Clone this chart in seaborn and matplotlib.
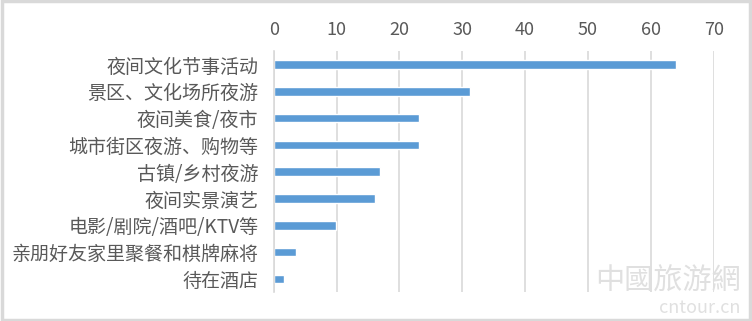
import matplotlib.pyplot as plt
import pandas as pd
import seaborn as sns
from matplotlib.patches import Rectangle

categories = ["夜间文化节事活动", "景区、文化场所夜游", "夜间美食/夜市", "城市街区夜游、购物等",
              "古镇/乡村夜游", "夜间实景演艺", "电影/剧院/酒吧/KTV等", "亲朋好友家里聚餐和棋牌麻将", "待在酒店"]
values = [64.0, 31.2, 23.1, 23.1, 16.9, 16.1, 9.9, 3.5, 1.6]
xticks = [0, 10, 20, 30, 40, 50, 60, 70]

df = pd.DataFrame({"activity": categories, "share": values})

sns.set_style("white")
plt.rcParams["font.family"] = ["Noto Sans CJK SC", "DejaVu Sans"]

fig = plt.figure(figsize=(7.52, 3.21), dpi=100)
ax = fig.add_axes([0.364, 0.089, 0.585, 0.752])
sns.barplot(data=df, x="share", y="activity", color="#5B9BD5", saturation=1, width=0.32, ax=ax)

ax.set_xlim(0, 70)
ax.set_xticks(xticks)
ax.xaxis.tick_top()
ax.set_xlabel("")
ax.set_ylabel("")
ax.grid(axis="x", color="#D9D9D9", linewidth=1.2)
ax.set_axisbelow(True)
for s in ["top", "right", "bottom"]:
    ax.spines[s].set_visible(False)
ax.spines["left"].set_color("#D9D9D9")
ax.spines["left"].set_linewidth(1.2)
ax.tick_params(axis="x", length=0, pad=8.5, labelsize=13, labelcolor="#595959")
ax.tick_params(axis="y", length=0, pad=11, labelsize=13.7, labelcolor="#595959")

# watermark
fig.text(0.985, 0.075, "中國旅游網", ha="right", va="bottom", fontsize=21, color="#E0E0E0")
fig.text(0.985, 0.012, "cntour.cn", ha="right", va="bottom", fontsize=13, color="#E0E0E0")

# outer frame
fig.patches.append(Rectangle((0.002, 0.004), 0.996, 0.992, transform=fig.transFigure,
                             fill=False, edgecolor="#D9D9D9", linewidth=2.5))

plt.savefig("out.png", dpi=100)
